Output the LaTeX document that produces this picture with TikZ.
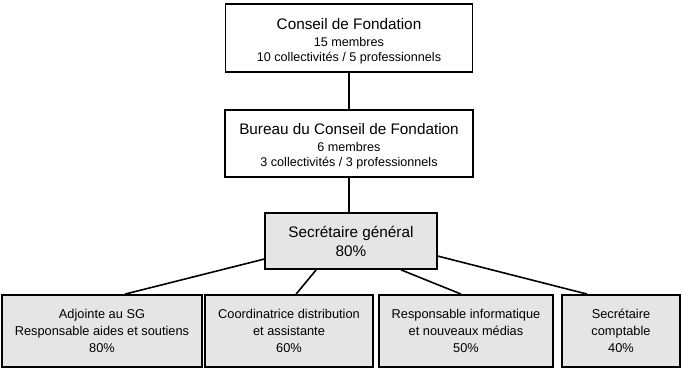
\documentclass[tikz,border=0pt]{standalone}
\usepackage{fontspec}
\setmainfont{Liberation Sans}
\usetikzlibrary{calc}
\newcommand{\bigtxt}{\fontsize{15.3}{19}\selectfont}
\newcommand{\smalltxt}{\fontsize{12.6}{15.5}\selectfont}
\newcommand{\lowtxt}{\fontsize{12.8}{17}\selectfont}
\tikzset{
  whitebox/.style={draw=black, line width=1.5pt, fill=white, align=center, inner sep=0pt, font=\smalltxt},
  graybox/.style={draw=black, line width=1.8pt, fill=black!10, align=center, inner sep=0pt, font=\lowtxt},
  conn/.style={draw=black, line width=1.6pt}
}
\begin{document}
\begin{tikzpicture}[x=1pt,y=-1pt]
\useasboundingbox (0,0) rectangle (682,369);
% top boxes
\node[whitebox, minimum width=247pt, minimum height=68pt] (cf) at (349,38)
  {{\bigtxt\rule{0pt}{18pt}Conseil de Fondation}\\[1.5pt] 15 membres\\ 10 collectivités / 5 professionnels};
\node[whitebox, minimum width=248pt, minimum height=67pt] (bcf) at (349,143.5)
  {{\bigtxt\rule{0pt}{17pt}Bureau du Conseil de Fondation}\\[1.5pt] 6 membres\\ 3 collectivités / 3 professionnels};
% secretaire general
\node[graybox, minimum width=172pt, minimum height=56pt, font=\bigtxt] (sg) at (351,241)
  {Secrétaire général\\ 80\%};
% bottom boxes
\node[graybox, minimum width=200pt, minimum height=72pt] (b1) at (102,331)
  {Adjointe au SG\\ Responsable aides et soutiens\\ 80\%};
\node[graybox, minimum width=168pt, minimum height=72pt] (b2) at (289,331)
  {Coordinatrice distribution\\ et assistante\\ 60\%};
\node[graybox, minimum width=174pt, minimum height=72pt] (b3) at (466,331)
  {Responsable informatique\\ et nouveaux médias\\ 50\%};
\node[graybox, minimum width=118pt, minimum height=72pt] (b4) at (621,331)
  {Secrétaire\\ comptable\\ 40\%};
% connectors
\draw[conn] (cf.south) -- (bcf.north);
\draw[conn] (bcf.south) -- (bcf.south |- sg.north);
\draw[conn] ($(sg.north west)+(0,47)$) -- ($(b1.north west)+(124,0)$);
\draw[conn] ($(sg.south west)+(52,0)$) -- ($(b2.north west)+(92,0)$);
\draw[conn] ($(sg.south west)+(137,0)$) -- ($(b3.north west)+(83,0)$);
\draw[conn] ($(sg.north east)+(0,44)$) -- ($(b4.north west)+(26,0)$);
\end{tikzpicture}
\end{document}
